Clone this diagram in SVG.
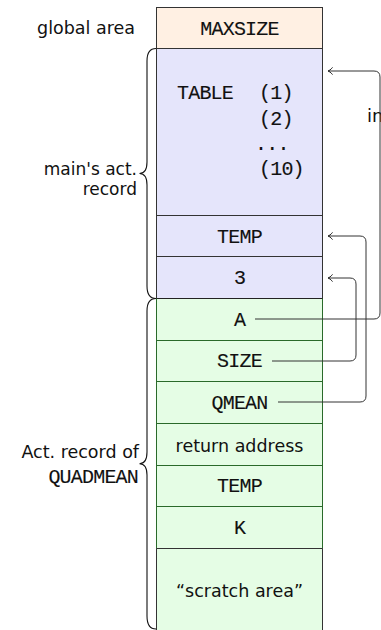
<svg xmlns="http://www.w3.org/2000/svg" width="381" height="630" viewBox="0 0 381 630">
<defs>
<style>
.sans{font-family:"DejaVu Sans","Liberation Sans",sans-serif;font-size:17.5px;fill:#111}
.mono{font-family:"Liberation Mono","DejaVu Sans Mono",monospace;font-size:20px;letter-spacing:-0.8px;fill:#111;stroke:#111;stroke-width:0.12px}
.c{text-anchor:middle}
.r{text-anchor:end}
.glob{fill:#fff0e3;stroke:#333;stroke-width:1}
.blue{fill:#e5e5fb;stroke:#333;stroke-width:1}
.green{fill:#e5fde5;stroke:#2a6a2a;stroke-width:1}
.scr{fill:#e5fde5;stroke:#333;stroke-width:1}
.brace{fill:none;stroke:#111;stroke-width:1.1}
.conn{fill:none;stroke:#333;stroke-width:1;marker-end:url(#arr)}
</style>
<marker id="arr" markerUnits="userSpaceOnUse" markerWidth="10" markerHeight="10" viewBox="-6 -5 8 10" refX="0" refY="0" orient="auto">
<path d="M-4.5,-3.6 C-3,-1.5 -1,-0.3 0,0 C-1,0.3 -3,1.5 -4.5,3.6" fill="none" stroke="#222" stroke-width="1"/>
</marker>
</defs>
<g id="global-area">
<rect class="glob" x="156.5" y="7.5" width="166" height="41"/>
<text class="mono c" x="239.5" y="35">MAXSIZE</text>
</g>
<g id="table">
<rect class="blue" x="156.5" y="48.5" width="166" height="167"/>
<text class="mono" x="177" y="99">TABLE</text>
<text class="mono" x="259" y="99">(1)</text>
<text class="mono" x="259" y="125">(2)</text>
<text class="mono" x="255" y="150">...</text>
<text class="mono" x="259" y="175">(10)</text>
</g>
<g id="main-temp">
<rect class="blue" x="156.5" y="215.5" width="166" height="41"/>
<text class="mono c" x="239.5" y="243">TEMP</text>
</g>
<g id="three">
<rect class="blue" x="156.5" y="256.5" width="166" height="42"/>
<text class="mono c" x="239.5" y="284">3</text>
</g>
<g id="a">
<rect class="green" x="156.5" y="298.5" width="166" height="42"/>
<line x1="156.5" y1="298.5" x2="322.5" y2="298.5" stroke="#222" stroke-width="1"/>
<text class="mono c" x="239.5" y="326">A</text>
</g>
<g id="size">
<rect class="green" x="156.5" y="340.5" width="166" height="41"/>
<text class="mono c" x="239.5" y="367">SIZE</text>
</g>
<g id="qmean">
<rect class="green" x="156.5" y="381.5" width="166" height="42"/>
<text class="mono c" x="239.5" y="409">QMEAN</text>
</g>
<g id="return-address">
<rect class="green" x="156.5" y="423.5" width="166" height="42"/>
<text class="sans c" x="239.5" y="452">return address</text>
</g>
<g id="qm-temp">
<rect class="green" x="156.5" y="465.5" width="166" height="41"/>
<text class="mono c" x="239.5" y="492">TEMP</text>
</g>
<g id="k">
<rect class="green" x="156.5" y="506.5" width="166" height="42"/>
<text class="mono c" x="239.5" y="534">K</text>
</g>
<g id="scratch-area">
<path class="scr" d="M156.5,640 V548.5 H322.5 V640"/>
<text class="sans c" x="239.5" y="597">“scratch area”</text>
</g>
<g id="labels">
<text class="sans r" x="135" y="34">global area</text>
<text class="sans r" x="137" y="175" style="font-size:17px">main's act.</text>
<text class="sans r" x="137" y="195" style="font-size:17px">record</text>
<text class="sans r" x="139" y="458">Act. record of</text>
<text class="mono r" x="138" y="483">QUADMEAN</text>
<text class="sans" x="367" y="122" style="font-size:18px">in</text>
</g>
<g id="braces">
<path class="brace" d="M156,48.5 C149.5,48.5 147,53 147,61 L147,162 C147,169 144.5,173.5 139.5,173.5 C144.5,173.5 147,178 147,185 L147,286 C147,294 149.5,298.5 156,298.5"/>
<path class="brace" d="M156,298.5 C149.5,298.5 147,303 147,311 L147,452 C147,459 144.5,463.7 139.5,463.7 C144.5,463.7 147,468 147,475 L147,616 C147,624 149.5,629 156,629"/>
</g>
<g id="connectors">
<path class="conn" d="M255,319 H374 Q380,319 380,313 V77 Q380,71 374,71 H328"/>
<path class="conn" d="M272,361 H350 Q356,361 356,355 V284 Q356,278 350,278 H328"/>
<path class="conn" d="M278,402 H360 Q366,402 366,396 V242 Q366,236 360,236 H328"/>
</g>
</svg>
